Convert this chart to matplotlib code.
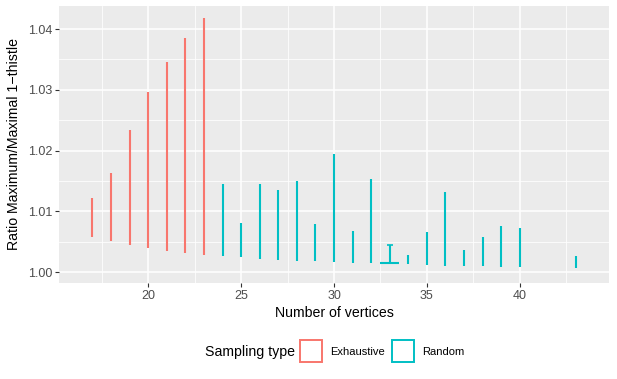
import matplotlib
matplotlib.use("Agg")
import matplotlib.pyplot as plt
from matplotlib.patches import Rectangle

plt.rcParams['font.family'] = ['Liberation Sans', 'DejaVu Sans']

# Exhaustive sampling
ex_n = [17, 18, 19, 20, 21, 22, 23]
ex_min = [1.0057, 1.00505, 1.00439, 1.00396, 1.00352, 1.00314, 1.00281]
ex_max = [1.01218, 1.01629, 1.0234, 1.0296, 1.03458, 1.03852, 1.04176]

# Random sampling
rd_n = [24, 25, 26, 27, 28, 29, 30, 31, 32, 33, 34, 35, 36, 37, 38, 39, 40, 43]
rd_min = [1.00258, 1.00242, 1.0022, 1.00199, 1.00187, 1.00176, 1.0016, 1.00154, 1.00143,
          1.00143, 1.00127, 1.00117, 1.00105, 1.0010, 1.00094, 1.00084, 1.00077, 1.00067]
rd_max = [1.01453, 1.00807, 1.01453, 1.0135, 1.01497, 1.00795, 1.0195, 1.00669, 1.0154,
          1.00445, 1.00275, 1.00659, 1.01321, 1.00368, 1.0057, 1.00751, 1.00718, 1.00265]

x_ticks = [20, 25, 30, 35, 40]
y_ticks = [1.00, 1.01, 1.02, 1.03, 1.04]
y_ticklabels = ["1.00", "1.01", "1.02", "1.03", "1.04"]

c_ex = "#F8766D"
c_rd = "#00BFC4"

W, H = 617, 379
fig = plt.figure(figsize=(W / 100, H / 100), dpi=100)
ax = fig.add_axes([59 / W, 1 - 283 / H, (609 - 59) / W, (283 - 6) / H])
ax.set_facecolor("#EBEBEB")

ax.set_xlim(15.2, 44.8)
ax.set_ylim(0.9982, 1.0438)

ax.vlines(ex_n, ex_min, ex_max, colors=c_ex, linewidth=1.5, zorder=3)
ax.vlines(rd_n, rd_min, rd_max, colors=c_rd, linewidth=1.5, zorder=3)
# flat box at 33 with whisker cap
i33 = rd_n.index(33)
ax.hlines(rd_min[i33], 33 - 0.5, 33 + 0.5, colors=c_rd, linewidth=1.5, zorder=3)
ax.hlines(rd_max[i33], 33 - 0.17, 33 + 0.17, colors=c_rd, linewidth=1.2, zorder=3)

ax.set_xticks(x_ticks)
ax.set_xticks([17.5, 22.5, 27.5, 32.5, 37.5, 42.5], minor=True)
ax.set_yticks(y_ticks)
ax.set_yticklabels(y_ticklabels)
ax.set_yticks([1.005, 1.015, 1.025, 1.035], minor=True)
ax.grid(which="major", color="white", linewidth=1.1, zorder=0)
ax.grid(which="minor", color="white", linewidth=0.55, zorder=0)
ax.set_axisbelow(True)
for s in ax.spines.values():
    s.set_visible(False)
ax.tick_params(which="major", length=2.75, width=0.8, color="#333333",
               labelsize=9, labelcolor="#4D4D4D", pad=2)
ax.tick_params(which="minor", length=0)

ax.set_xlabel("Number of vertices", fontsize=10.2, labelpad=3)
ax.set_ylabel("Ratio Maximum/Maximal 1\u2212thistle", fontsize=10.2, labelpad=5)

# Legend
fig.text(205 / W, 1 - 352 / H, "Sampling type", fontsize=10.2, va="center", ha="left")
for x0, col, lab in [(300, c_ex, "Exhaustive"), (392, c_rd, "Random")]:
    fig.patches.append(Rectangle((x0 / W, 1 - 362 / H), 22 / W, 22 / H,
                                 transform=fig.transFigure, facecolor="white",
                                 edgecolor=col, linewidth=1.4))
    fig.text((x0 + 30) / W, 1 - 352 / H, lab, fontsize=8, va="center", ha="left")

fig.savefig("out.png", dpi=100)
